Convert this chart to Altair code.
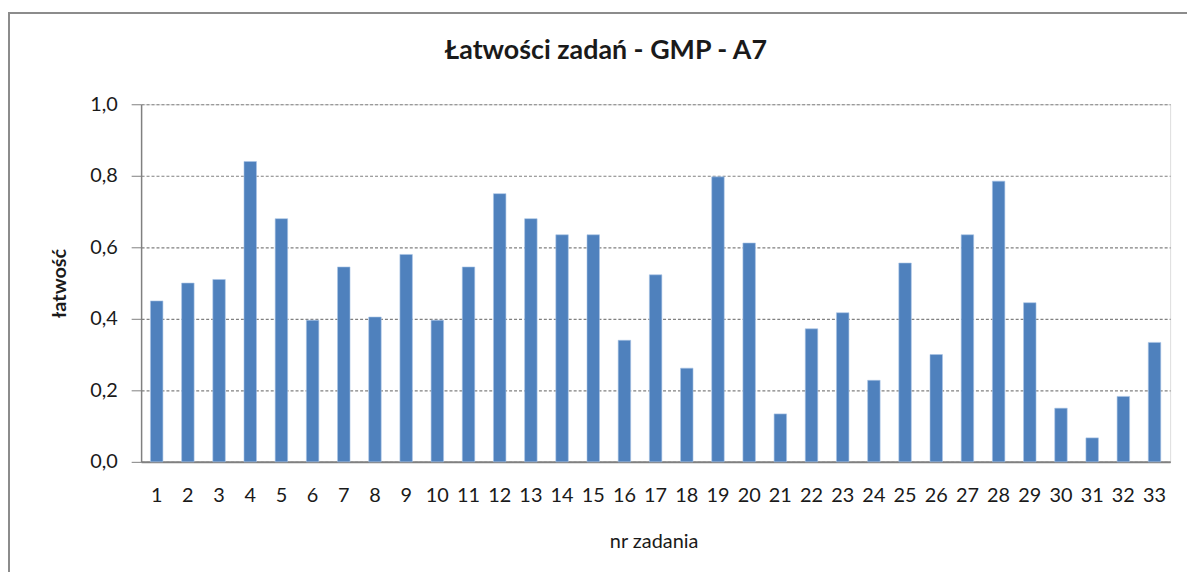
import altair as alt
import pandas as pd

tasks = [str(i) for i in range(1, 34)]
values = [0.45, 0.50, 0.51, 0.84, 0.68, 0.396, 0.545, 0.405, 0.58, 0.396, 0.545,
          0.75, 0.68, 0.635, 0.635, 0.34, 0.523, 0.262, 0.797, 0.612, 0.134, 0.372,
          0.417, 0.228, 0.556, 0.30, 0.635, 0.785, 0.445, 0.15, 0.067, 0.183, 0.334]
y_ticks = [0.0, 0.2, 0.4, 0.6, 0.8, 1.0]

df = pd.DataFrame({"nr": tasks, "val": values})

FONT = "Lato"
GRAY = "#808080"
TXT = "#1a1a1a"

bars = alt.Chart(df).mark_bar(color="#4F81BD", stroke="#a9c4e6", strokeWidth=0.6).encode(
    x=alt.X("nr:N", sort=tasks,
            scale=alt.Scale(paddingInner=0.6, paddingOuter=0.3),
            axis=alt.Axis(title="nr zadania", labelAngle=0, labelOverlap=False,
                          labelFont=FONT, labelFontSize=20, labelColor=TXT,
                          labelPadding=24, ticks=False,
                          domainColor=GRAY, domainWidth=2,
                          titleFont=FONT, titleFontSize=20, titleFontWeight="normal",
                          titleColor=TXT, titleX=516, titleY=80,
                          titleBaseline="middle", titleAlign="center")),
    y=alt.Y("val:Q", scale=alt.Scale(domain=[0, 1], nice=False),
            axis=alt.Axis(title="łatwość", values=y_ticks,
                          labelExpr="replace(format(datum.value, '.1f'), '.', ',')",
                          labelFont=FONT, labelFontSize=20, labelColor=TXT,
                          labelPadding=14, tickSize=10, tickColor=GRAY,
                          domainColor=GRAY, domainWidth=1.5,
                          grid=True, gridColor=GRAY, gridDash=[3, 2], gridWidth=1.2,
                          titleFont=FONT, titleFontSize=20, titleFontWeight="bold",
                          titleColor=TXT, titleX=-82, titleY=180, titleAngle=-90,
                          titleBaseline="middle", titleAlign="center")),
)

frame = alt.Chart(df).mark_rect(fill=None, stroke="#8c8c8c", strokeWidth=1.5).encode(
    x=alt.value(-133), x2=alt.value(1100), y=alt.value(-92), y2=alt.value(600)
)

chart = alt.layer(frame, bars).properties(
    width=1036, height=360,
    autosize=alt.AutoSizeParams(type="none"),
    padding={"left": 134, "top": 95, "right": 17, "bottom": 109},
    title=alt.TitleParams("Łatwości zadań - GMP - A7", font=FONT, fontSize=27,
                          fontWeight="bold", color=TXT, anchor="middle",
                          dx=-50, offset=-53),
).configure_view(strokeWidth=0).configure(background="white")

chart.save("out.html", embed_options={"renderer": "svg", "actions": False})
